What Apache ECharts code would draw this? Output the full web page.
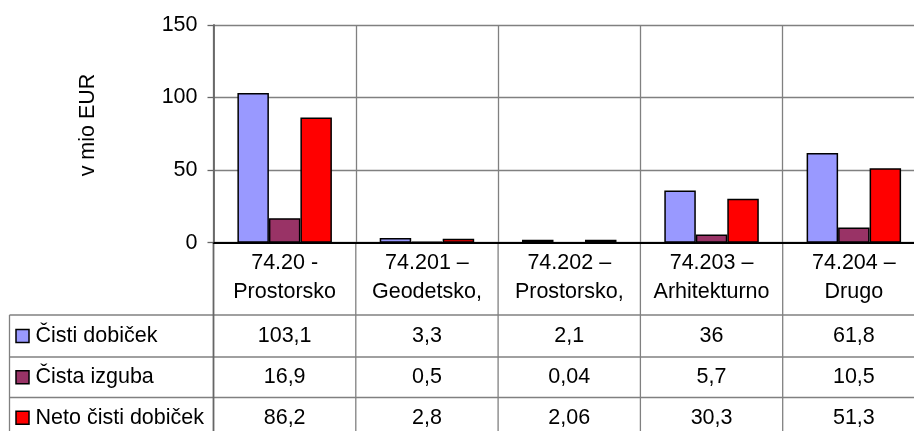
<!DOCTYPE html>
<html>
<head>
<meta charset="utf-8">
<script src="https://cdn.jsdelivr.net/npm/echarts@6/dist/echarts.min.js"></script>
<style>
  html, body { margin: 0; padding: 0; background: #fff; }
  #chart { width: 914px; height: 431px; }
</style>
</head>
<body>
<div id="chart"></div>
<script>
const categories = ['74.20 -\nProstorsko', '74.201 –\nGeodetsko,', '74.202 –\nProstorsko,', '74.203 –\nArhitekturno', '74.204 –\nDrugo']
const seriesNames = ['Čisti dobiček', 'Čista izguba', 'Neto čisti dobiček']
const cistiDobicek = [103.1, 3.3, 2.1, 36, 61.8]
const cistaIzguba = [16.9, 0.5, 0.04, 5.7, 10.5]
const netoDobicek = [86.2, 2.8, 2.06, 30.3, 51.3]
const yMin = 0, yMax = 150, yStep = 50
const axisName = 'v mio EUR'

const COLORS = ['#9999ff', '#993366', '#ff0000']
const FONT = '"Liberation Sans", Arial, sans-serif'
const FS = 21.5
const GRID_LINE = '#808080'

const chart = echarts.init(document.getElementById('chart'), null, { renderer: 'canvas' })
const allSeries = [cistiDobicek, cistaIzguba, netoDobicek]

chart.setOption({
  animation: false,
  backgroundColor: '#fff',
  textStyle: { fontFamily: FONT },
  // plot area runs past the right edge of the picture, as in the original
  grid: { left: 213.5, top: 25, width: 711.5, height: 217.7, containLabel: false, outerBoundsMode: 'none' },
  xAxis: {
    type: 'category',
    data: categories,
    axisLine: { lineStyle: { color: '#000', width: 2 } },
    axisTick: { show: false },
    axisLabel: { color: '#000', fontSize: FS, lineHeight: 29, margin: 6, fontFamily: FONT, interval: 0 },
    splitLine: { show: true, interval: 0, lineStyle: { color: GRID_LINE, width: 1.3 } }
  },
  yAxis: {
    type: 'value',
    min: yMin, max: yMax, interval: yStep,
    axisLine: { show: true, lineStyle: { color: '#666', width: 1.8 } },
    axisTick: { show: true, length: 6, lineStyle: { color: '#666', width: 1.3 } },
    axisLabel: { color: '#000', fontSize: FS, margin: 16, fontFamily: FONT },
    splitLine: { lineStyle: { color: GRID_LINE, width: 1.3 } }
  },
  series: allSeries.map((d, i) => ({
    name: seriesNames[i],
    type: 'bar',
    data: d,
    barGap: '0%',
    barCategoryGap: '33.6%',
    itemStyle: { color: COLORS[i], borderColor: '#000', borderWidth: 1.5 }
  }))
})

// data table under the chart, built from the same axis positions
function fmt(v) { return String(v).replace('.', ',') }

const zeroY = chart.convertToPixel({ yAxisIndex: 0 }, 0)
const c0 = chart.convertToPixel({ xAxisIndex: 0 }, 0)
const c1 = chart.convertToPixel({ xAxisIndex: 0 }, 1)
const bandW = c1 - c0
const leftX = c0 - bandW / 2
const tableLeft = 9.5
const rowTops = [315, 357, 397.5, 438]
const lineStyle = { stroke: GRID_LINE, lineWidth: 1.3 }
const g = []

rowTops.slice(0, 3).forEach(y => {
  g.push({ type: 'line', shape: { x1: tableLeft, y1: y, x2: 914, y2: y }, style: lineStyle })
})
g.push({ type: 'line', shape: { x1: tableLeft, y1: rowTops[0], x2: tableLeft, y2: 431 }, style: lineStyle })
for (let i = 0; i <= categories.length; i++) {
  const x = leftX + i * bandW
  g.push({ type: 'line', shape: { x1: x, y1: zeroY + 1, x2: x, y2: 431 }, style: { stroke: i === 0 ? '#666' : GRID_LINE, lineWidth: i === 0 ? 1.8 : 1.3 } })
}

seriesNames.forEach((name, r) => {
  const cy = (rowTops[r] + rowTops[r + 1]) / 2
  g.push({ type: 'rect', shape: { x: 16, y: cy - 6.5, width: 13, height: 13 }, style: { fill: COLORS[r], stroke: '#000', lineWidth: 1.5 } })
  g.push({ type: 'text', x: 35.5, y: cy, style: { text: name, font: FS + 'px ' + FONT, fill: '#000', verticalAlign: 'middle', align: 'left' } })
  allSeries[r].forEach((v, c) => {
    const cx = chart.convertToPixel({ xAxisIndex: 0 }, c)
    g.push({ type: 'text', x: cx, y: cy, style: { text: fmt(v), font: FS + 'px ' + FONT, fill: '#000', align: 'center', verticalAlign: 'middle' } })
  })
})

g.push({ type: 'text', x: 88, y: 125, rotation: Math.PI / 2, style: { text: axisName, font: FS + 'px ' + FONT, fill: '#000', align: 'center', verticalAlign: 'middle' } })

chart.setOption({ graphic: g })
</script>
</body>
</html>
